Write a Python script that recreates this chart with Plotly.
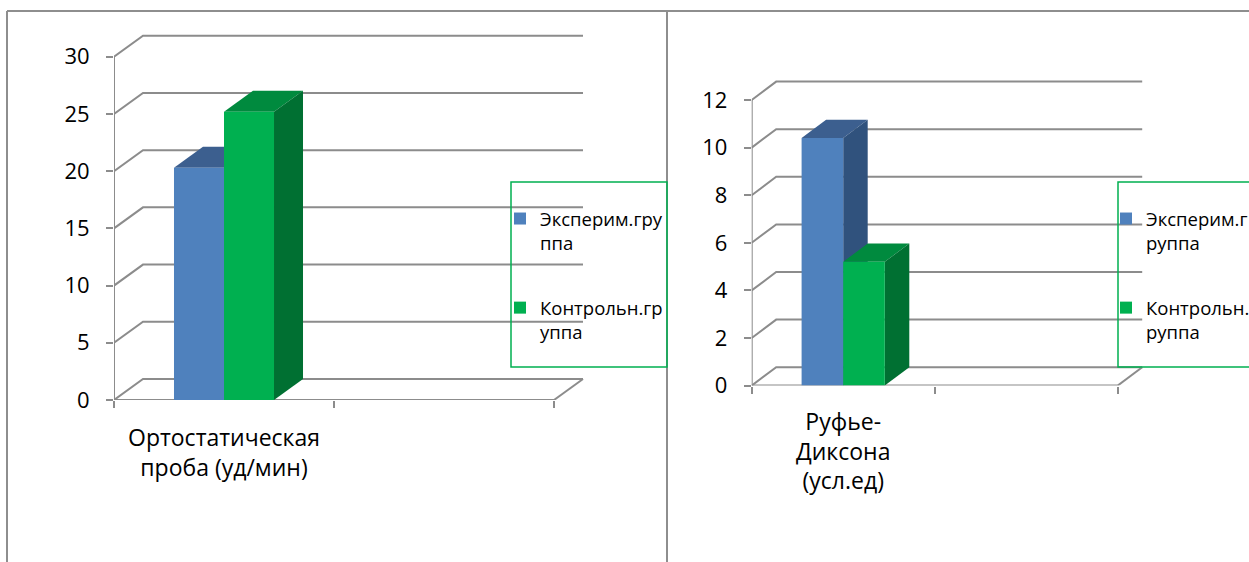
import plotly.graph_objects as go

W, H = 1249, 562

# ---------------- data ----------------
left_category = "Ортостатическая<br>проба (уд/мин)"
right_category = "Руфье-<br>Диксона<br>(усл.ед)"
left_series = ["Эксперим.гру<br>ппа", "Контрольн.гр<br>уппа"]
right_series = ["Эксперим.г<br>руппа", "Контрольн.г<br>руппа"]
left_values = [20.3, 25.2]
right_values = [10.4, 5.2]
left_ticks = [0, 5, 10, 15, 20, 25, 30]
right_ticks = [0, 2, 4, 6, 8, 10, 12]

# ---------------- style ----------------
FRONT = ["#4F81BD", "#00B050"]
TOP = ["#3C5F8F", "#008A3E"]
SIDE = ["#30527D", "#007032"]
GRID = "#8C8C8C"
FONT = "Open Sans"
BAR_W = 0.2273

panels = [
    dict(cat=left_category, names=left_series, vals=left_values, ticks=left_ticks,
         fl=114, fr=554, ar=592, y0=400, ytp=56.7, at=28, dx=29, dy=21, so=22,
         xa="x", ya="y", legend="legend"),
    dict(cat=right_category, names=right_series, vals=right_values, ticks=right_ticks,
         fl=751.7, fr=1117.7, ar=1152, y0=385.6, ytp=100, at=60, dx=24.5, dy=18.4, so=20,
         xa="x2", ya="y2", legend="legend2"),
]

fig = go.Figure()
shapes = []
layout_axes = {}

for i, p in enumerate(panels):
    top_val = p["ticks"][-1]
    ppx = (p["fr"] - p["fl"]) / 2.0
    ppy = (p["y0"] - p["ytp"]) / top_val
    ddx = p["dx"] / ppx
    ddy = p["dy"] / ppy
    xr = [-0.5, -0.5 + (p["ar"] - p["fl"]) / ppx]
    yr = [0, (p["y0"] - p["at"]) / ppy]
    xa, ya = p["xa"], p["ya"]

    # back wall gridlines + left wall diagonals
    for v in p["ticks"]:
        shapes.append(dict(type="path", xref=xa, yref=ya, layer="below",
                           path=f"M{-0.5},{v} L{-0.5+ddx},{v+ddy} L{1.5+ddx},{v+ddy}",
                           line=dict(color=GRID, width=2)))
    # floor right diagonal
    shapes.append(dict(type="line", xref=xa, yref=ya, layer="below",
                       x0=1.5, y0=0, x1=1.5 + ddx, y1=ddy, line=dict(color=GRID, width=2)))
    # front axes lines
    shapes.append(dict(type="line", xref=xa, yref=ya, layer="below",
                       x0=-0.5, y0=0, x1=1.5, y1=0, line=dict(color=GRID, width=2)))
    shapes.append(dict(type="line", xref=xa, yref=ya, layer="below",
                       x0=-0.5, y0=0, x1=-0.5, y1=top_val, line=dict(color=GRID, width=2)))

    for j, (name, val) in enumerate(zip(p["names"], p["vals"])):
        off = -BAR_W + j * BAR_W
        x0, x1 = off, off + BAR_W
        fig.add_trace(go.Bar(
            x=[0], y=[val], width=[BAR_W], offset=[off], name=name,
            marker=dict(color=FRONT[j], line=dict(width=0)),
            xaxis=xa, yaxis=ya, legend=p["legend"], legendgroup=f"{i}{j}",
            hoverinfo="skip"))
        # top face
        shapes.append(dict(type="path", xref=xa, yref=ya, layer="below",
                           path=f"M{x0},{val} L{x1},{val} L{x1+ddx},{val+ddy} L{x0+ddx},{val+ddy} Z",
                           fillcolor=TOP[j], line=dict(width=0)))
        # side face
        shapes.append(dict(type="path", xref=xa, yref=ya, layer="below",
                           path=f"M{x1},0 L{x1+ddx},{ddy} L{x1+ddx},{val+ddy} L{x1},{val} Z",
                           fillcolor=SIDE[j], line=dict(width=0)))

    sfx = "" if i == 0 else "2"
    layout_axes["xaxis" + sfx] = dict(
        domain=[p["fl"] / W, p["ar"] / W], range=xr, anchor=ya,
        showgrid=False, zeroline=False, showline=False,
        tickmode="array", tickvals=[0], ticktext=[p["cat"]], ticks="",
        ticklabelstandoff=p["so"], automargin=False,
        tickfont=dict(family=FONT, size=23, color="#000"),
        minor=dict(tickmode="array", tickvals=[-0.5, 0.5, 1.5], ticks="outside",
                   ticklen=7, tickwidth=2, tickcolor=GRID, showgrid=False),
        fixedrange=True)
    layout_axes["yaxis" + sfx] = dict(
        domain=[1 - p["y0"] / H, 1 - p["at"] / H], range=yr, anchor=xa,
        showgrid=False, zeroline=False, showline=False,
        tickmode="array", tickvals=p["ticks"], ticks="outside", ticklen=7,
        tickwidth=2, tickcolor=GRID, ticklabelstandoff=12, automargin=False,
        tickfont=dict(family=FONT, size=22, color="#000"),
        fixedrange=True)

# outer frame and divider
FR = "#8E8E8E"
shapes.append(dict(type="line", xref="paper", yref="paper", x0=7 / W, x1=1.01, y0=1 - 11 / H, y1=1 - 11 / H,
                   line=dict(color=FR, width=2), layer="above"))
shapes.append(dict(type="line", xref="paper", yref="paper", x0=7 / W, x1=7 / W, y0=1 - 11 / H, y1=-0.01,
                   line=dict(color=FR, width=2), layer="above"))
shapes.append(dict(type="line", xref="paper", yref="paper", x0=667 / W, x1=667 / W, y0=1 - 11 / H, y1=-0.01,
                   line=dict(color=FR, width=2), layer="above"))
# legend boxes
for lx, rx in [(511, 667), (1118, 1262)]:
    shapes.append(dict(type="rect", xref="paper", yref="paper", x0=lx / W, x1=rx / W,
                       y0=1 - 367 / H, y1=1 - 182 / H, line=dict(color="#00B050", width=1.5),
                       fillcolor="rgba(0,0,0,0)", layer="above"))

leg_common = dict(xanchor="left", yanchor="top", bgcolor="rgba(0,0,0,0)", borderwidth=0,
                  font=dict(family=FONT, size=18.5, color="#000"), valign="top",
                  tracegroupgap=38, itemclick=False, itemdoubleclick=False)

fig.update_layout(
    width=W, height=H, margin=dict(l=0, r=0, t=0, b=0, autoexpand=False),
    paper_bgcolor="white", plot_bgcolor="rgba(0,0,0,0)",
    barmode="overlay", showlegend=True, shapes=shapes,
    legend=dict(x=500 / W, y=1 - 200 / H, **leg_common),
    legend2=dict(x=1106 / W, y=1 - 200 / H, **leg_common),
    **layout_axes,
)

fig.write_html("out.html")
